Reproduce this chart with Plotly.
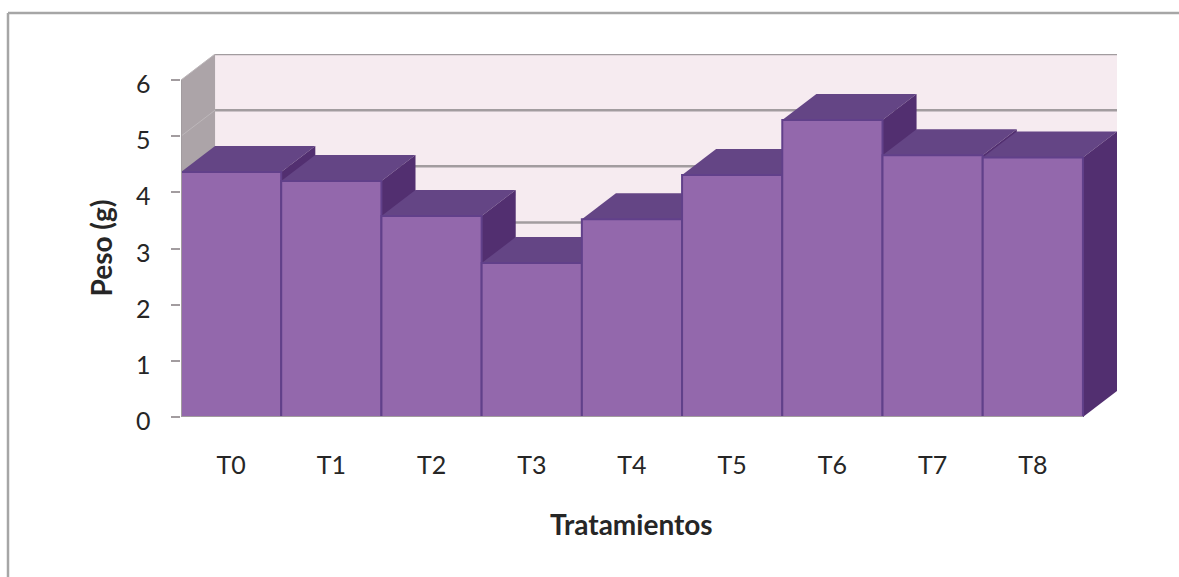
import plotly.graph_objects as go

# Mean weight per treatment
categories = ["T0", "T1", "T2", "T3", "T4", "T5", "T6", "T7", "T8"]
peso = [4.36, 4.20, 3.58, 2.74, 3.52, 4.31, 5.29, 4.66, 4.62]
y_ticks = [0, 1, 2, 3, 4, 5, 6]

# Oblique projection of the depth axis, in axis units
DX = 0.34
DY = 0.463
HALF = 0.5

WIDTH, HEIGHT = 1179, 577
LEFT, RIGHT, TOP, BOTTOM = 181, 62, 54, 160

FRONT = "#9368AC"
EDGE = "#61408A"
TOP_FACE = "#644585"
SIDE_FACE = "#522F70"
BACK_WALL = "#F6EBF0"
SIDE_WALL = "#ACA4A8"
WALL_LINE = "#A29C9F"
TEXT = "#262626"
FONT = "Lato, Carlito, sans-serif"


def polygon(xs, ys, fill, line=None, line_width=0):
    return go.Scatter(
        x=xs + xs[:1], y=ys + ys[:1], mode="lines", fill="toself", fillcolor=fill,
        line=dict(color=line or fill, width=line_width if line else 0),
        hoverinfo="skip", showlegend=False, cliponaxis=False,
    )


def segment(xs, ys, color, width):
    return go.Scatter(
        x=xs, y=ys, mode="lines", line=dict(color=color, width=width),
        hoverinfo="skip", showlegend=False, cliponaxis=False,
    )


n = len(categories)
x_lo, x_hi = -HALF, n - 1 + HALF
y_max = y_ticks[-1]

fig = go.Figure()

# Walls behind the columns
fig.add_trace(polygon([x_lo + DX, x_hi + DX, x_hi + DX, x_lo + DX],
                      [DY, DY, y_max + DY, y_max + DY], BACK_WALL))
fig.add_trace(polygon([x_lo, x_lo + DX, x_lo + DX, x_lo],
                      [0, DY, y_max + DY, y_max], SIDE_WALL))

# Gridlines run across the back wall and fold down the side wall
for tick in y_ticks[1:]:
    fig.add_trace(segment([x_lo + DX, x_hi + DX], [tick + DY, tick + DY], WALL_LINE, 2.5))
    fig.add_trace(segment([x_lo, x_lo + DX], [tick, tick + DY], "#BDB7BA", 1))

# Columns, painted left to right so nearer faces overlap correctly
for i, value in enumerate(peso):
    l, r = i - HALF, i + HALF
    fig.add_trace(polygon([l, r, r + DX, l + DX],
                          [value, value, value + DY, value + DY], TOP_FACE))
    fig.add_trace(polygon([r, r + DX, r + DX, r],
                          [0, DY, value + DY, value], SIDE_FACE))
    fig.add_trace(polygon([l, r, r, l], [0, 0, value, value], FRONT, EDGE, 2))

# Axis lines on the front plane
fig.add_trace(segment([x_lo, x_lo], [0, y_max], WALL_LINE, 2))
fig.add_trace(segment([x_lo, x_hi], [0, 0], WALL_LINE, 2))

frame = dict(type="line", xref="paper", yref="paper",
             line=dict(color="#A6A6A6", width=2.5))
plot_w = WIDTH - LEFT - RIGHT
plot_h = HEIGHT - TOP - BOTTOM
frame_x = (8 - LEFT) / plot_w
frame_y = (HEIGHT - BOTTOM - 13) / plot_h
x_end = (WIDTH - LEFT) / plot_w
y_end = -(BOTTOM) / plot_h

tick_font = dict(size=25, family=FONT, color=TEXT)
title_font = dict(size=28, family=FONT, color=TEXT)

# Value labels sit slightly below their tick marks
tick_labels = [
    dict(text=str(tick), x=x_lo, y=tick, xref="x", yref="y", xanchor="right",
         xshift=-28, yshift=-3, showarrow=False, font=tick_font)
    for tick in y_ticks
]

fig.update_layout(
    width=WIDTH, height=HEIGHT,
    margin=dict(l=LEFT, r=RIGHT, t=TOP, b=BOTTOM),
    paper_bgcolor="white", plot_bgcolor="white",
    showlegend=False,
    font=dict(family=FONT, color=TEXT),
    xaxis=dict(
        range=[x_lo, x_hi + DX], tickmode="array",
        tickvals=list(range(n)), ticktext=categories,
        showgrid=False, zeroline=False, showline=False, ticks="",
        tickfont=tick_font,
        ticklabelstandoff=31, fixedrange=True,
    ),
    yaxis=dict(
        range=[0, y_max + DY], tickmode="array",
        tickvals=y_ticks, showticklabels=False,
        showgrid=False, zeroline=False, showline=False,
        ticks="outside", ticklen=9, tickwidth=2, tickcolor=WALL_LINE,
        fixedrange=True,
    ),
    shapes=[
        dict(frame, x0=frame_x, x1=frame_x, y0=frame_y, y1=y_end),
        dict(frame, x0=frame_x, x1=x_end, y0=frame_y, y1=frame_y),
    ],
    annotations=tick_labels + [
        dict(text="<b>Tratamientos</b>", x=4, y=0, xref="x", yref="y",
             yshift=-107, showarrow=False, font=title_font),
        dict(text="<b>Peso (g)</b>", x=x_lo, y=3, xref="x", yref="y", textangle=-90,
             xshift=-81, showarrow=False, font=title_font),
    ],
)

fig.write_html("out.html", config=dict(displayModeBar=False))
